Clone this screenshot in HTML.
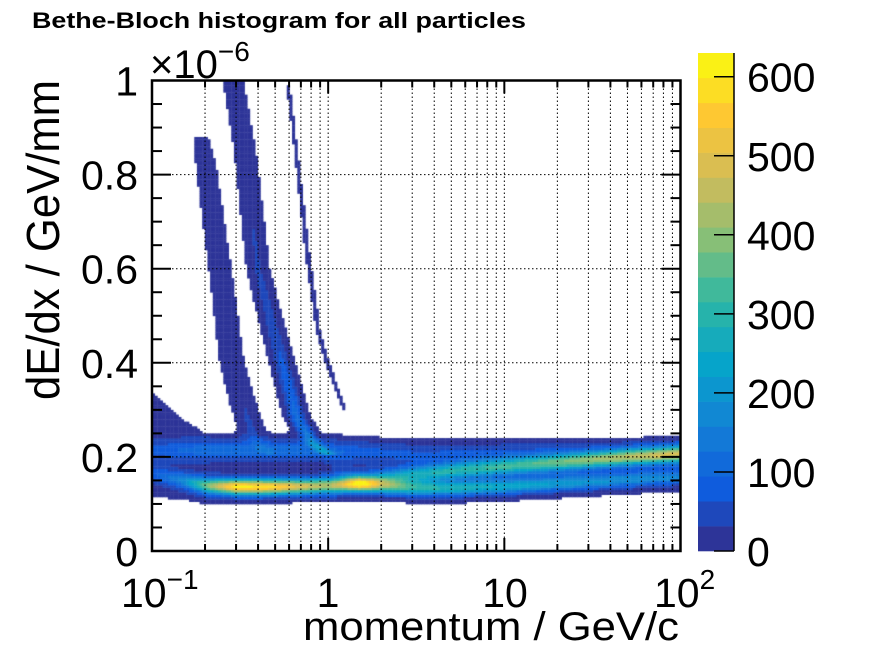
<!DOCTYPE html>
<html><head><meta charset="utf-8">
<style>
html,body{margin:0;padding:0;background:#fff;}
#wrap{position:relative;width:896px;height:672px;overflow:hidden;background:#fff;}
#heat{position:absolute;left:0;top:0;}
#axes{position:absolute;left:0;top:0;}
text{font-family:"Liberation Sans",Arial,sans-serif;fill:#000;}
</style></head>
<body>
<div id="wrap">
<canvas id="heat" width="896" height="672"></canvas>
<svg id="axes" width="896" height="672" xmlns="http://www.w3.org/2000/svg">
  <text x="32" y="28" font-size="22" font-weight="bold" textLength="494" lengthAdjust="spacingAndGlyphs">Bethe-Bloch histogram for all particles</text>
  <g id="grid"></g>
  <g id="ticks"></g>
  <rect x="152" y="80.5" width="528.5" height="470.5" fill="none" stroke="#000" stroke-width="2.5"/>
  <g id="ylabels"></g>
  <text x="150" y="78" font-size="40">×10<tspan font-size="28" dy="-17">−6</tspan></text>
  <g>
    <text x="121" y="607" font-size="41">10<tspan font-size="28" dy="-18">−1</tspan></text>
    <text x="328" y="607" font-size="41" text-anchor="middle">1</text>
    <text x="505" y="607" font-size="41" text-anchor="middle">10</text>
    <text x="654" y="607" font-size="41">10<tspan font-size="28" dy="-18">2</tspan></text>
  </g>
  <text x="303" y="640" font-size="40" textLength="376" lengthAdjust="spacingAndGlyphs">momentum / GeV/c</text>
  <text transform="translate(59,400) rotate(-90)" x="0" y="0" font-size="46" textLength="320" lengthAdjust="spacingAndGlyphs">dE/dx / GeV/mm</text>
  <g id="cbar"></g>
  <g id="cbarlabels"></g>
</svg>
</div>
<script>
// ---- data (dE/dx in units of 1e-6 GeV/mm, momentum in GeV/c) ----
const momentumPts = [0.1, 0.15, 0.2, 0.3, 0.5, 0.7, 1, 1.5, 2, 3, 5, 10, 20, 50, 100];
const mipCenter   = [0.165,0.15,0.14,0.137,0.137,0.138,0.14,0.143,0.14,0.135,0.134,0.138,0.144,0.152,0.158];
const mipPeak     = [60, 150, 350, 600, 560, 470, 420, 560, 360, 290, 260, 230, 200, 170, 150];
const upperCenter = [0.2, 0.2, 0.2, 0.2, 0.2, 0.19, 0.17, 0.15, 0.155, 0.163, 0.171, 0.18, 0.188, 0.2, 0.207];
const upperPeak   = [0, 0, 0, 0, 0, 0, 0, 120, 200, 250, 280, 300, 330, 380, 420];
const elecCenter  = [0.215,0.215,0.215,0.215,0.215,0.215,0.213,0.21,0.208,0.205,0.205,0.205,0.205,0.205,0.205];
const elecPeak    = [50, 80, 95, 100, 100, 95, 90, 70, 60, 55, 55, 60, 60, 60, 60];
const haloLow     = [0.115,0.11,0.1,0.1,0.1,0.105,0.11,0.115,0.115,0.12,0.125,0.125,0.135,0.145,0.15];
const haloHigh    = [0.34, 0.28,0.25,0.25,0.245,0.24,0.24,0.235,0.235,0.235,0.235,0.235,0.235,0.235,0.235];
const haloCount   = [20, 20, 18, 15, 15, 15, 15, 15, 15, 15, 15, 15, 15, 15, 15];

const protonP     = [0.288, 0.337, 0.399, 0.467, 0.546, 0.664, 0.819, 1.02];
const protonV     = [0.999, 0.852, 0.601, 0.497, 0.402, 0.284, 0.229, 0.204];
const protonCount = [20, 25, 35, 45, 70, 110, 150, 120];
const kaonP       = [0.19, 0.205, 0.243, 0.284, 0.324, 0.384, 0.467];
const kaonV       = [0.88, 0.804, 0.6, 0.4, 0.321, 0.236, 0.205];
const kaonCount   = [6, 12, 16, 22, 30, 40, 30];
const deutP       = [0.591, 0.655, 0.757, 0.874, 0.996, 1.243];
const deutV       = [0.991, 0.852, 0.64, 0.469, 0.395, 0.30];
const deutCount   = [4, 4, 5, 5, 5, 4];

const cbarTicks = [0, 100, 200, 300, 400, 500, 600];
const yTicks = [0, 0.2, 0.4, 0.6, 0.8, 1];
const yLabels = ["0", "0.2", "0.4", "0.6", "0.8", "1"];
const zMax = 630, nLevels = 20;

// ---- axes ----
const X0 = 152, X1 = 680.5, Y0 = 551, Y1 = 80.5;
function xPos(p){ return X0 + (Math.log10(p) + 1) / 3 * (X1 - X0); }
function yPos(v){ return Y0 - v * (Y0 - Y1); }
function zPos(z){ return 551 - z / zMax * (551 - 53); }

const bird = [[0.2082,0.1664,0.5293],[0.0592,0.3599,0.8684],[0.0780,0.5041,0.8385],[0.0232,0.6419,0.7914],[0.1802,0.7178,0.6425],[0.5301,0.7492,0.4662],[0.8186,0.7328,0.3499],[0.9956,0.7862,0.1968],[0.9764,0.9832,0.0539]];
function birdColor(t){
  const s = Math.max(0, Math.min(1, t)) * 8, i = Math.min(7, Math.floor(s)), f = s - i;
  const c = bird[i].map((a, k) => Math.round(255 * (a + (bird[i+1][k] - a) * f)));
  return `rgb(${c[0]},${c[1]},${c[2]})`;
}
function levelColor(c){
  const lv = Math.min(nLevels - 1, Math.floor(c / (zMax / nLevels)));
  return birdColor((lv + 0.5) / nLevels);
}
function interpLog(arr, p){
  const lp = Math.log10(p);
  for (let i = 0; i < momentumPts.length - 1; i++){
    const a = Math.log10(momentumPts[i]), b = Math.log10(momentumPts[i+1]);
    if (lp <= b || i === momentumPts.length - 2){
      const f = Math.max(0, Math.min(1, (lp - a) / (b - a)));
      return arr[i] + (arr[i+1] - arr[i]) * f;
    }
  }
}
function curveDensity(P, V, C, p, v, sig){
  if (v > V[0] || v < V[V.length-1]) return 0;
  for (let i = 0; i < V.length - 1; i++){
    if (v <= V[i] && v >= V[i+1]){
      const f = (V[i] - v) / (V[i] - V[i+1]);
      const lpc = Math.log10(P[i]) + (Math.log10(P[i+1]) - Math.log10(P[i])) * f;
      const amp = C[i] + (C[i+1] - C[i]) * f;
      const d = (Math.log10(p) - lpc) / sig;
      return amp * Math.exp(-0.5 * d * d);
    }
  }
  return 0;
}
function gauss(v, m, s, a){ const d = (v - m) / s; return a * Math.exp(-0.5 * d * d); }

// ---- heatmap ----
const ctx = document.getElementById('heat').getContext('2d');
const nx = 200, ny = 200;
for (let i = 0; i < nx; i++){
  const lpa = -1 + 3 * i / nx, lpb = -1 + 3 * (i + 1) / nx;
  const p = Math.pow(10, (lpa + lpb) / 2);
  const xa = xPos(Math.pow(10, lpa)), xb = xPos(Math.pow(10, lpb));
  const mC = interpLog(mipCenter, p), mA = interpLog(mipPeak, p);
  const uC = interpLog(upperCenter, p), uA = interpLog(upperPeak, p);
  const eC = interpLog(elecCenter, p), eA = interpLog(elecPeak, p);
  const hL = interpLog(haloLow, p), hH = interpLog(haloHigh, p), hA = interpLog(haloCount, p);
  for (let j = 0; j < ny; j++){
    const va = j / ny, vb = (j + 1) / ny, v = (va + vb) / 2;
    let c = 0;
    c += gauss(v, mC, 0.011, mA);
    c += gauss(v, uC, 0.012, uA);
    c += gauss(v, eC, 0.014, eA);
    if (v >= hL && v <= hH) c += hA;
    c += curveDensity(protonP, protonV, protonCount, p, v, 0.03);
    c += curveDensity(kaonP, kaonV, kaonCount, p, v, 0.035);
    c += curveDensity(deutP, deutV, deutCount, p, v, 0.012);
    if (c < 3) continue;
    ctx.fillStyle = levelColor(c);
    ctx.fillRect(xa, yPos(vb), xb - xa + 0.4, yPos(va) - yPos(vb) + 0.4);
  }
}

// ---- grid & ticks ----
const NS = 'http://www.w3.org/2000/svg';
function line(g, x1, y1, x2, y2, w, dash, name){
  const l = document.createElementNS(NS, 'line');
  l.setAttribute('x1', x1); l.setAttribute('y1', y1); l.setAttribute('x2', x2); l.setAttribute('y2', y2);
  l.setAttribute('stroke', '#000'); l.setAttribute('stroke-width', w);
  if (dash) l.setAttribute('stroke-dasharray', dash);
  
  
  g.appendChild(l);
}
const grid = document.getElementById('grid'), ticks = document.getElementById('ticks');
for (let d = -1; d < 2; d++){
  for (let m = 1; m <= 9; m++){
    const x = xPos(m * Math.pow(10, d));
    if (m > 1 || d > -1) line(grid, x, Y1, x, Y0, 1, '1.5,2.5', 'x-grid-line');
    const len = m === 1 ? 13 : 7;
    line(ticks, x, Y0, x, Y0 - len, 2, null, 'x-tick');
    line(ticks, x, Y1, x, Y1 + len, 2, null, 'x-tick-top');
  }
}
yTicks.forEach((v, k) => {
  if (k > 0 && k < yTicks.length - 1) line(grid, X0, yPos(v), X1, yPos(v), 1, '1.5,2.5', 'y-grid-line');
});
for (let k = 0; k <= 20; k++){
  const v = k * 0.05, y = yPos(v), len = k % 4 === 0 ? 19 : 10;
  line(ticks, X0, y, X0 + len, y, 2, null, 'y-tick');
  line(ticks, X1, y, X1 - len, y, 2, null, 'y-tick-right');
}
const yl = document.getElementById('ylabels');
yTicks.forEach((v, k) => {
  const t = document.createElementNS(NS, 'text');
  t.setAttribute('x', 138); t.setAttribute('y', yPos(v) + 15);
  t.setAttribute('font-size', '41'); t.setAttribute('text-anchor', 'end');
  t.textContent = yLabels[k];
  
  
  yl.appendChild(t);
});

// ---- color bar ----
const cbar = document.getElementById('cbar');
for (let lv = 0; lv < nLevels; lv++){
  const r = document.createElementNS(NS, 'rect');
  const za = lv * zMax / nLevels, zb = (lv + 1) * zMax / nLevels;
  r.setAttribute('x', 698); r.setAttribute('width', 36);
  r.setAttribute('y', zPos(zb)); r.setAttribute('height', zPos(za) - zPos(zb) + 0.3);
  r.setAttribute('fill', birdColor((lv + 0.5) / nLevels));
  
  
  cbar.appendChild(r);
}
line(cbar, 734, 53, 734, 551, 1.5, null, 'color-bar-axis');
const cbl = document.getElementById('cbarlabels');
cbarTicks.forEach(z => {
  line(cbar, 734, zPos(z), 714, zPos(z), 1.5, null, 'color-bar-tick');
  const t = document.createElementNS(NS, 'text');
  t.setAttribute('x', 747); t.setAttribute('y', zPos(z) + 15);
  t.setAttribute('font-size', '41');
  t.textContent = String(z);
  
  
  cbl.appendChild(t);
});
</script>
</body></html>
